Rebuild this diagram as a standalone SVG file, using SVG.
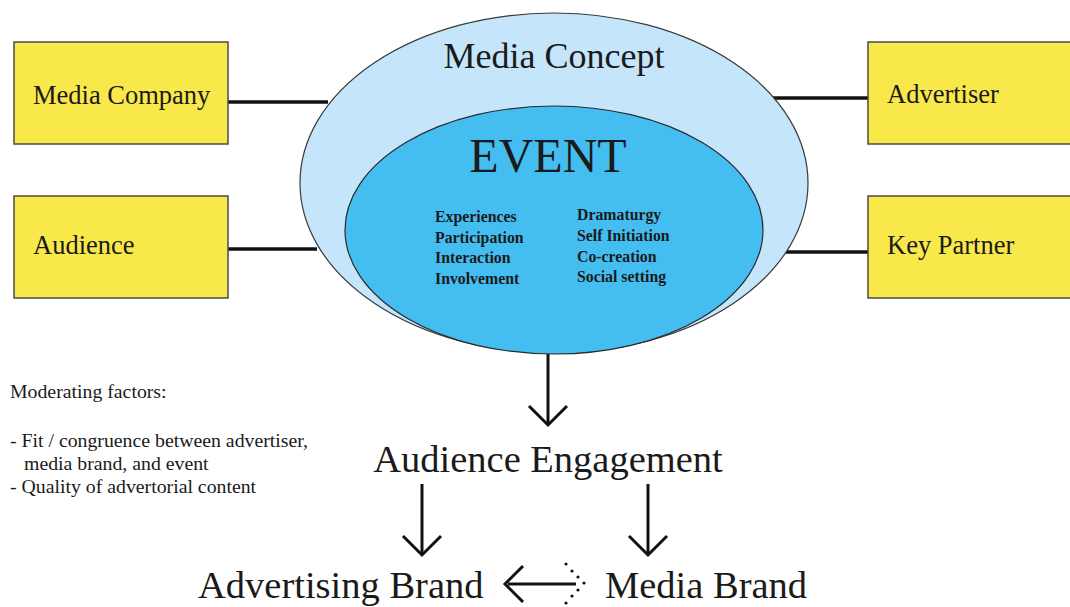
<svg xmlns="http://www.w3.org/2000/svg" width="1070" height="607" viewBox="0 0 1070 607">
  <defs>
    <style>
      .serif { font-family: "Liberation Serif", "Times New Roman", serif; fill: #1a1a1a; }
      .box { fill: #F9E84A; stroke: #4a4a4a; stroke-width: 1.5; }
      .box-label { font-size: 26.5px; }
      .link { stroke: #111; stroke-width: 3.5; fill: none; }
      .arrow { stroke: #111; stroke-width: 3; fill: none; stroke-linecap: butt; stroke-linejoin: miter; }
      .item { font-size: 15.8px; font-weight: bold; }
      .note { font-size: 19.8px; }
      .big { font-size: 38.5px; }
    </style>
  </defs>

  <rect width="1070" height="607" fill="#ffffff"/>

  <!-- connectors between stakeholder boxes and the concept -->
  <g id="connectors">
    <line class="link" x1="228" y1="102" x2="328" y2="102"/>
    <line class="link" x1="228" y1="249" x2="317" y2="249"/>
    <line class="link" x1="773" y1="98" x2="868" y2="98"/>
    <line class="link" x1="786" y1="252" x2="868" y2="252"/>

    <!-- event leads to engagement -->
    <line class="arrow" x1="548" y1="354" x2="548" y2="423"/>
    <polyline class="arrow" points="529,406 548,425 567,406"/>

    <!-- engagement leads to both brands -->
    <line class="arrow" x1="422" y1="484" x2="422" y2="553"/>
    <polyline class="arrow" points="403,536 422,555 441,536"/>
    <line class="arrow" x1="648" y1="484" x2="648" y2="553"/>
    <polyline class="arrow" points="629,536 648,555 667,536"/>

    <!-- media brand to advertising brand, dotted return head -->
    <line class="arrow" x1="508" y1="584" x2="576" y2="584"/>
    <polyline class="arrow" points="523,566 505,584 523,602"/>
    <g fill="#111">
      <circle cx="566" cy="564" r="1.6"/>
      <circle cx="572" cy="571" r="1.6"/>
      <circle cx="578" cy="577" r="1.6"/>
      <circle cx="584" cy="583" r="1.6"/>
      <circle cx="578" cy="590" r="1.6"/>
      <circle cx="572" cy="596" r="1.6"/>
      <circle cx="566" cy="603" r="1.6"/>
    </g>
  </g>

  <g id="media-concept">
    <ellipse cx="554" cy="183" rx="254" ry="170" fill="#C5E6FA" stroke="#3a3a3a" stroke-width="1.2"/>
    <text class="serif" x="554" y="68" font-size="36" text-anchor="middle">Media Concept</text>
  </g>

  <g id="event">
    <ellipse cx="554" cy="230" rx="209" ry="124" fill="#44BEF0" stroke="#2a2a2a" stroke-width="1.2"/>
    <text class="serif" x="548" y="172" font-size="48" text-anchor="middle">EVENT</text>
    <text class="serif item" x="435" y="222">Experiences</text>
    <text class="serif item" x="435" y="243">Participation</text>
    <text class="serif item" x="435" y="263">Interaction</text>
    <text class="serif item" x="435" y="284">Involvement</text>
    <text class="serif item" x="577" y="220">Dramaturgy</text>
    <text class="serif item" x="577" y="241">Self Initiation</text>
    <text class="serif item" x="577" y="262">Co-creation</text>
    <text class="serif item" x="577" y="282">Social setting</text>
  </g>

  <g id="media-company">
    <rect class="box" x="14" y="42" width="214" height="102"/>
    <text class="serif box-label" x="33" y="104">Media Company</text>
  </g>

  <g id="audience">
    <rect class="box" x="14" y="196" width="214" height="102"/>
    <text class="serif box-label" x="33" y="254">Audience</text>
  </g>

  <g id="advertiser">
    <rect class="box" x="868" y="42" width="214" height="102"/>
    <text class="serif box-label" x="887" y="103">Advertiser</text>
  </g>

  <g id="key-partner">
    <rect class="box" x="868" y="196" width="214" height="102"/>
    <text class="serif box-label" x="887" y="254">Key Partner</text>
  </g>

  <g id="moderating-factors">
    <text class="serif note" x="10" y="398">Moderating factors:</text>
    <text class="serif note" x="10" y="447">- Fit / congruence between advertiser,</text>
    <text class="serif note" x="24" y="470">media brand, and event</text>
    <text class="serif note" x="10" y="493">- Quality of advertorial content</text>
  </g>

  <g id="audience-engagement">
    <text class="serif big" x="548" y="472" text-anchor="middle">Audience Engagement</text>
  </g>

  <g id="advertising-brand">
    <text class="serif big" x="198" y="598">Advertising Brand</text>
  </g>

  <g id="media-brand">
    <text class="serif big" x="605" y="598">Media Brand</text>
  </g>
</svg>
